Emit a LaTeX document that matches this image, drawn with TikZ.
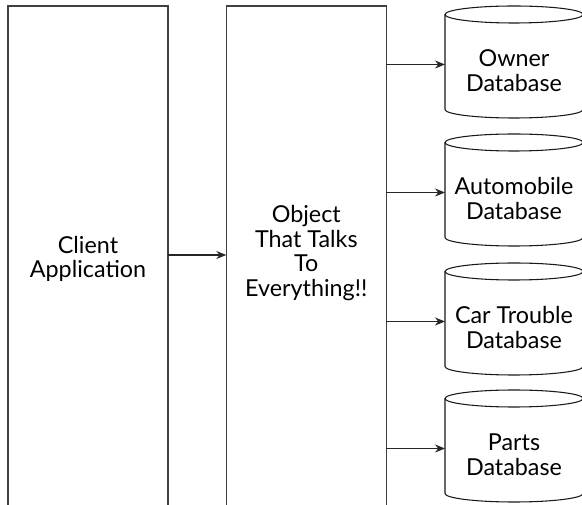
\documentclass[tikz,border=0pt]{standalone}
\usepackage{fontspec}
\setmainfont{Lato}
\usetikzlibrary{arrows.meta,calc}

\tikzset{
  panel/.style={draw=black!75, line width=0.9pt, minimum width=120pt, minimum height=390pt, inner sep=0pt, outer sep=0pt},
  paneltext/.style={align=center, inner sep=0pt, font=\fontsize{17.5}{18.4}\selectfont},
  store/.style={minimum width=103.5pt, minimum height=71.25pt, inner sep=0pt, outer sep=0pt, align=center, font=\fontsize{17.5}{18.4}\selectfont},
  storeline/.style={draw=black!90, line width=0.8pt},
  feed/.style={draw=black!85, line width=0.8pt, -{Stealth[length=7.5pt,width=6pt]}},
}

\begin{document}
\begin{tikzpicture}[x=0.75pt,y=0.75pt,yscale=-1,xscale=1]
\useasboundingbox (0,0) rectangle (582,505);

% Panels, open at the bottom
\node[panel] (client) at (88,266) {};
\node[panel] (server) at (306.3,266) {};
\node[paneltext] (clienttext) at (88,259) {Client\\Application};
\node[paneltext] (servertext) at (306.3,253) {Object\\That Talks\\To\\Everything!!};

% Databases
\node[store] (owner) at (514,70.5) {Owner\\Database};
\node[store] (automobile) at (514,198.5) {Automobile\\Database};
\node[store] (cartrouble) at (514,327.5) {Car Trouble\\Database};
\node[store] (parts) at (514,454.5) {Parts\\Database};

% Cylinder outlines
\draw[storeline] ($(owner.north west)+(0,-8.5)$) -- ($(owner.south west)+(0,-8.5)$) arc[start angle=180, end angle=0, x radius=69, y radius=8.5] -- ($(owner.north east)+(0,-8.5)$);
\draw[storeline] ($(owner.north)+(0,-8.5)$) ellipse [x radius=69, y radius=8.5];
\draw[storeline] ($(automobile.north west)+(0,-8.5)$) -- ($(automobile.south west)+(0,-8.5)$) arc[start angle=180, end angle=0, x radius=69, y radius=8.5] -- ($(automobile.north east)+(0,-8.5)$);
\draw[storeline] ($(automobile.north)+(0,-8.5)$) ellipse [x radius=69, y radius=8.5];
\draw[storeline] ($(cartrouble.north west)+(0,-8.5)$) -- ($(cartrouble.south west)+(0,-8.5)$) arc[start angle=180, end angle=0, x radius=69, y radius=8.5] -- ($(cartrouble.north east)+(0,-8.5)$);
\draw[storeline] ($(cartrouble.north)+(0,-8.5)$) ellipse [x radius=69, y radius=8.5];
\draw[storeline] ($(parts.north west)+(0,-8.5)$) -- ($(parts.south west)+(0,-8.5)$) arc[start angle=180, end angle=0, x radius=69, y radius=8.5] -- ($(parts.north east)+(0,-8.5)$);
\draw[storeline] ($(parts.north)+(0,-8.5)$) ellipse [x radius=69, y radius=8.5];

% Connectors
\coordinate (handoff) at (197,255);
\draw[feed] (client.east |- handoff) -- (server.west |- handoff);
\draw[feed] ($(server.east |- owner.west)+(0,-6)$) -- ($(owner.west)+(0,-6)$);
\draw[feed] ($(server.east |- automobile.west)+(0,-6)$) -- ($(automobile.west)+(0,-6)$);
\draw[feed] ($(server.east |- cartrouble.west)+(0,-6)$) -- ($(cartrouble.west)+(0,-6)$);
\draw[feed] ($(server.east |- parts.west)+(0,-6)$) -- ($(parts.west)+(0,-6)$);
\end{tikzpicture}
\end{document}
